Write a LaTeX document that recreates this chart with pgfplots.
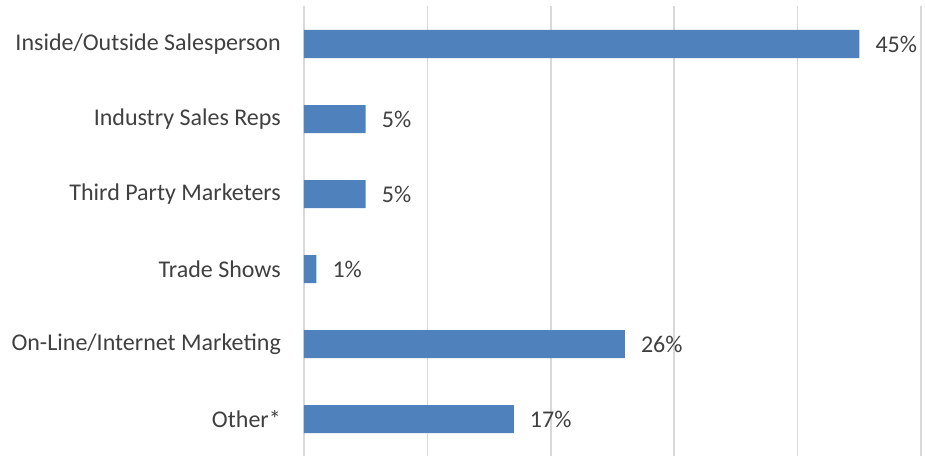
\documentclass[border=0pt]{standalone}
\usepackage{fontspec}
\setmainfont{Carlito}
\usepackage{pgfplots}
\pgfplotsset{compat=1.18}
\definecolor{barblue}{HTML}{4F81BD}
\definecolor{gridgray}{HTML}{D9D9D9}
\definecolor{txt}{HTML}{404040}
\begin{document}
\begin{tikzpicture}[x=1pt,y=1pt]
\begin{axis}[
  name=ax,
  at={(0,0)}, anchor=south west,
  scale only axis,
  width=617pt, height=450pt,
  xmin=0, xmax=50,
  ymin=-0.5, ymax=5.5,
  y dir=reverse,
  xbar, bar width=28pt,
  axis line style={draw=none},
  xtick={0,10,20,30,40,50},
  xticklabels={},
  xmajorgrids,
  grid style={gridgray, line width=1.5pt},
  major tick length=0pt,
  ytick={0,1,2,3,4,5},
  yticklabels={Inside/Outside Salesperson, Industry Sales Reps, Third Party Marketers, Trade Shows, On-Line/Internet Marketing, Other*},
  yticklabel style={font=\fontsize{24}{28}\selectfont, text=txt, inner xsep=0pt, xshift=-23pt},
  nodes near coords={\pgfmathprintnumber[assume math mode=true]{\pgfplotspointmeta}\%},
  point meta=x,
  every node near coord/.append style={font=\fontsize{24}{28}\selectfont, text=txt, anchor=west, inner xsep=0pt, xshift=16pt},
  clip=false,
]
\addplot[fill=barblue, draw=none] coordinates {(45,0) (5,1) (5,2) (1,3) (26,4) (17,5)};
\end{axis}
\pgfresetboundingbox
\path ([shift={(-304pt,1.5pt)}]ax.south west) rectangle ([shift={(621pt,456.5pt)}]ax.south west);
\end{tikzpicture}
\end{document}
